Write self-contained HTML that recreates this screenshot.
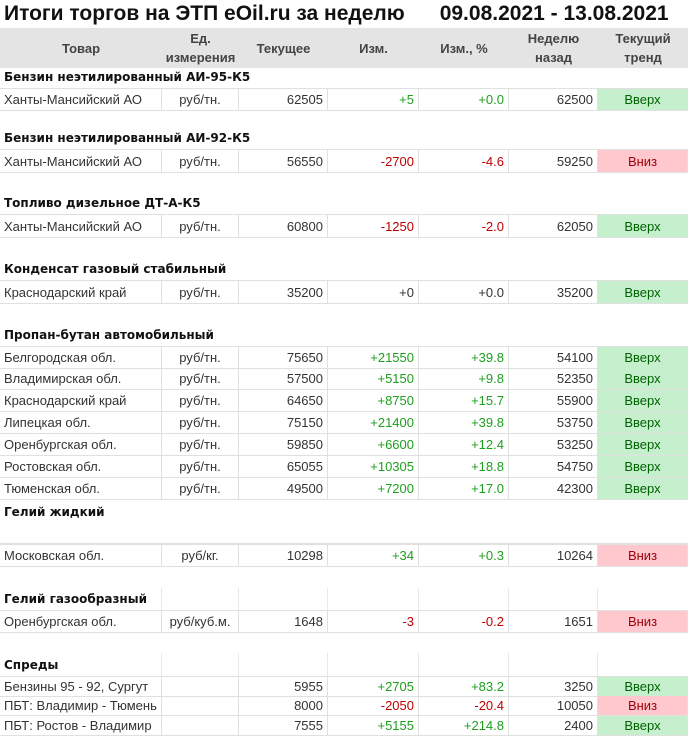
<!DOCTYPE html>
<html><head><meta charset="utf-8"><style>
body{margin:0;width:690px;height:737px;background:#fff;position:relative;overflow:hidden;font-family:"Liberation Sans",Arial,sans-serif;color:#333}
.t{position:absolute;top:2px;left:4px;font-weight:bold;font-size:21px;color:#111;white-space:pre}
.r{position:absolute;left:0;width:688px;display:flex}
.r>div{box-sizing:border-box;height:100%;display:flex;align-items:center;font-size:13px;white-space:nowrap;padding:0 4px}
.d>div{border-right:1px solid #e0e0e0;border-bottom:1px solid #e0e0e0}
.v>div{border-right:1px solid #e8e8e8}
.c1{width:162px}.c2{width:77px;justify-content:center}.c3{width:89px;justify-content:flex-end}
.c4{width:91px;justify-content:flex-end}.c5{width:90px;justify-content:flex-end}.c6{width:89px;justify-content:flex-end}.c7{width:90px;justify-content:center}
.h{background:#e4e4e4;top:28px;height:40px}
.h>div{font-weight:bold;font-size:13px;color:#444;text-align:center;justify-content:center!important;line-height:19px;white-space:normal}
.s{font-family:"DejaVu Sans",sans-serif;font-weight:bold;font-size:12px;color:#111;position:absolute;left:4px}
.g{color:#1e9e1e}.rd{color:#c00000}
.up{background:#c6efce;color:#006100}.dn{background:#ffc7ce;color:#9c0006}
</style></head><body>
<div class="t">Итоги торгов на ЭТП eOil.ru за неделю      09.08.2021 - 13.08.2021</div>
<div class="r h"><div class="c1">Товар</div><div class="c2">Ед.<br>измерения</div><div class="c3">Текущее</div><div class="c4">Изм.</div><div class="c5">Изм., %</div><div class="c6">Неделю<br>назад</div><div class="c7">Текущий<br>тренд</div></div>

<div class="s" style="top:70px">Бензин неэтилированный АИ-95-К5</div>
<div class="r d" style="top:88px;height:22px;border-top:1px solid #e0e0e0"><div class="c1">Ханты-Мансийский АО</div><div class="c2">руб/тн.</div><div class="c3">62505</div><div class="c4 g">+5</div><div class="c5 g">+0.0</div><div class="c6">62500</div><div class="c7 up">Вверх</div></div>

<div class="s" style="top:131px">Бензин неэтилированный АИ-92-К5</div>
<div class="r d" style="top:149px;height:23px;border-top:1px solid #e0e0e0"><div class="c1">Ханты-Мансийский АО</div><div class="c2">руб/тн.</div><div class="c3">56550</div><div class="c4 rd">-2700</div><div class="c5 rd">-4.6</div><div class="c6">59250</div><div class="c7 dn">Вниз</div></div>

<div class="s" style="top:196px">Топливо дизельное ДТ-А-К5</div>
<div class="r d" style="top:214px;height:23px;border-top:1px solid #e0e0e0"><div class="c1">Ханты-Мансийский АО</div><div class="c2">руб/тн.</div><div class="c3">60800</div><div class="c4 rd">-1250</div><div class="c5 rd">-2.0</div><div class="c6">62050</div><div class="c7 up">Вверх</div></div>

<div class="s" style="top:262px">Конденсат газовый стабильный</div>
<div class="r d" style="top:280px;height:23px;border-top:1px solid #e0e0e0"><div class="c1">Краснодарский край</div><div class="c2">руб/тн.</div><div class="c3">35200</div><div class="c4">+0</div><div class="c5">+0.0</div><div class="c6">35200</div><div class="c7 up">Вверх</div></div>

<div class="s" style="top:328px">Пропан-бутан автомобильный</div>
<div class="r d" style="top:346px;height:22px;border-top:1px solid #e0e0e0"><div class="c1">Белгородская обл.</div><div class="c2">руб/тн.</div><div class="c3">75650</div><div class="c4 g">+21550</div><div class="c5 g">+39.8</div><div class="c6">54100</div><div class="c7 up">Вверх</div></div>
<div class="r d" style="top:368px;height:22px"><div class="c1">Владимирская обл.</div><div class="c2">руб/тн.</div><div class="c3">57500</div><div class="c4 g">+5150</div><div class="c5 g">+9.8</div><div class="c6">52350</div><div class="c7 up">Вверх</div></div>
<div class="r d" style="top:390px;height:22px"><div class="c1">Краснодарский край</div><div class="c2">руб/тн.</div><div class="c3">64650</div><div class="c4 g">+8750</div><div class="c5 g">+15.7</div><div class="c6">55900</div><div class="c7 up">Вверх</div></div>
<div class="r d" style="top:412px;height:22px"><div class="c1">Липецкая обл.</div><div class="c2">руб/тн.</div><div class="c3">75150</div><div class="c4 g">+21400</div><div class="c5 g">+39.8</div><div class="c6">53750</div><div class="c7 up">Вверх</div></div>
<div class="r d" style="top:434px;height:22px"><div class="c1">Оренбургская обл.</div><div class="c2">руб/тн.</div><div class="c3">59850</div><div class="c4 g">+6600</div><div class="c5 g">+12.4</div><div class="c6">53250</div><div class="c7 up">Вверх</div></div>
<div class="r d" style="top:456px;height:22px"><div class="c1">Ростовская обл.</div><div class="c2">руб/тн.</div><div class="c3">65055</div><div class="c4 g">+10305</div><div class="c5 g">+18.8</div><div class="c6">54750</div><div class="c7 up">Вверх</div></div>
<div class="r d" style="top:478px;height:22px"><div class="c1">Тюменская обл.</div><div class="c2">руб/тн.</div><div class="c3">49500</div><div class="c4 g">+7200</div><div class="c5 g">+17.0</div><div class="c6">42300</div><div class="c7 up">Вверх</div></div>

<div class="s" style="top:505px">Гелий жидкий</div>
<div class="r d" style="top:543px;height:22px;border-top:2px solid #e0e0e0"><div class="c1">Московская обл.</div><div class="c2">руб/кг.</div><div class="c3">10298</div><div class="c4 g">+34</div><div class="c5 g">+0.3</div><div class="c6">10264</div><div class="c7 dn">Вниз</div></div>

<div class="r v" style="top:588px;height:22px"><div class="c1"></div><div class="c2"></div><div class="c3"></div><div class="c4"></div><div class="c5"></div><div class="c6"></div><div class="c7" style="border:0"></div></div>
<div class="s" style="top:592px">Гелий газообразный</div>
<div class="r d" style="top:610px;height:22px;border-top:1px solid #e0e0e0"><div class="c1">Оренбургская обл.</div><div class="c2">руб/куб.м.</div><div class="c3">1648</div><div class="c4 rd">-3</div><div class="c5 rd">-0.2</div><div class="c6">1651</div><div class="c7 dn">Вниз</div></div>

<div class="r v" style="top:653px;height:23px"><div class="c1"></div><div class="c2"></div><div class="c3"></div><div class="c4"></div><div class="c5"></div><div class="c6"></div><div class="c7" style="border:0"></div></div>
<div class="s" style="top:658px">Спреды</div>
<div class="r d" style="top:676px;height:20px;border-top:1px solid #e0e0e0"><div class="c1">Бензины 95 - 92, Сургут</div><div class="c2"></div><div class="c3">5955</div><div class="c4 g">+2705</div><div class="c5 g">+83.2</div><div class="c6">3250</div><div class="c7 up">Вверх</div></div>
<div class="r d" style="top:696px;height:20px"><div class="c1">ПБТ: Владимир - Тюмень</div><div class="c2"></div><div class="c3">8000</div><div class="c4 rd">-2050</div><div class="c5 rd">-20.4</div><div class="c6">10050</div><div class="c7 dn">Вниз</div></div>
<div class="r d" style="top:716px;height:20px"><div class="c1">ПБТ: Ростов - Владимир</div><div class="c2"></div><div class="c3">7555</div><div class="c4 g">+5155</div><div class="c5 g">+214.8</div><div class="c6">2400</div><div class="c7 up">Вверх</div></div>
</body></html>
